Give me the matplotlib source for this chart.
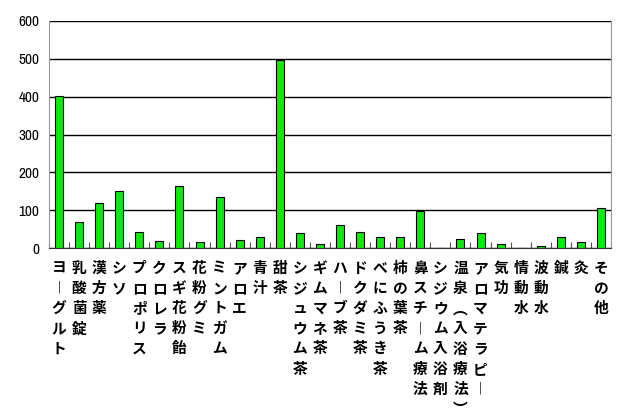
import matplotlib
matplotlib.use("Agg")
import matplotlib.pyplot as plt
import numpy as np

categories = ["ヨーグルト", "乳酸菌錠", "漢方薬", "シソ", "プロポリス", "クロレラ",
              "スギ花粉飴", "花粉グミ", "ミントガム", "アロエ", "青汁", "甜茶",
              "シジュウム茶", "ギムマネ茶", "ハーブ茶", "ドクダミ茶", "べにふうき茶",
              "柿の葉茶", "鼻スチーム療法", "シジウム入浴剤", "温泉（入浴療法）",
              "アロマテラピー", "気功", "情動水", "波動水", "鍼", "灸", "その他"]
values = [403, 69, 120, 151, 43, 19, 163, 16, 134, 22, 29, 497,
          39, 11, 60, 43, 30, 28, 98, 0, 23, 39, 11, 1, 5, 28, 15, 106]
yticks = [0, 100, 200, 300, 400, 500, 600]

vert_map = {"ー": "︱", "（": "︵", "）": "︶"}

fig = plt.figure(figsize=(6.33, 4.17), dpi=100)
ax = fig.add_axes([49/633, 1-248/417, 562/633, 227/417])

x = np.arange(len(categories))
ax.bar(x, values, width=0.4, color="#10e810", edgecolor="black", linewidth=0.8, zorder=3)

ax.set_xlim(-0.5, len(categories) - 0.5)
ax.set_ylim(0, 600)
ax.set_yticks(yticks)
ax.set_yticklabels([str(v) for v in yticks], family=["Archivo Narrow", "DejaVu Sans"],
                   fontsize=11, fontweight="bold")
ax.tick_params(axis="y", length=0, pad=7)
ax.yaxis.grid(True, color="black", linewidth=1.0, zorder=1)
ax.set_xticks(np.arange(len(categories) + 1) - 0.5)
ax.set_xticklabels([])
ax.tick_params(axis="x", direction="in", length=4, color="#555555", width=0.8)

for side in ["left", "right", "top"]:
    ax.spines[side].set_color("#999999")
ax.spines["bottom"].set_color("#333333")
ax.spines["top"].set_visible(False)

for i, cat in enumerate(categories):
    s = "\n".join(vert_map.get(c, c) for c in cat)
    ax.annotate(s, xy=(i, 0), xycoords=("data", "axes fraction"),
                xytext=(0, -8.5), textcoords="offset points",
                ha="center", va="top", fontsize=10.6, fontweight="bold",
                family=["Noto Sans CJK JP", "DejaVu Sans"], linespacing=1.32)

fig.savefig("out.png", dpi=100)
